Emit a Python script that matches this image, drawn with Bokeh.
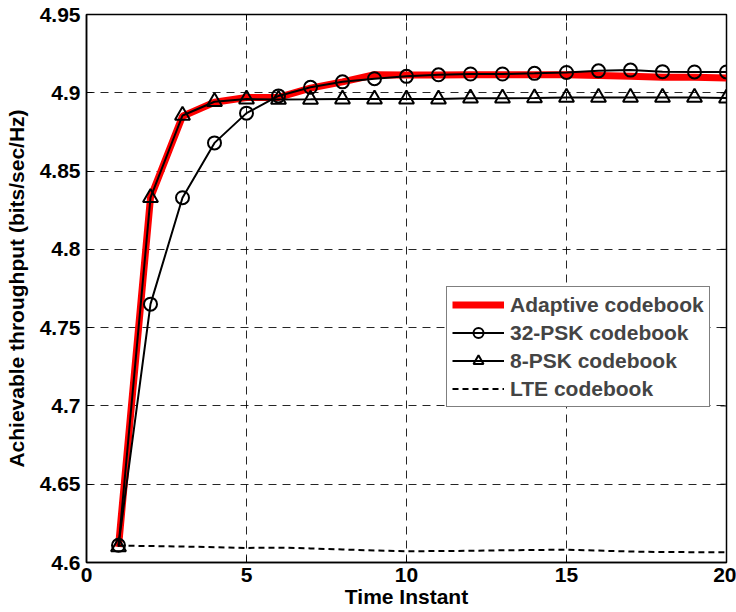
import math
from bokeh.plotting import figure
from bokeh.models import Range1d, FixedTicker, Legend, LegendItem
from bokeh.embed import file_html
from bokeh.resources import INLINE

t = list(range(1, 21))
adaptive = [4.610, 4.833, 4.885, 4.894, 4.897, 4.897, 4.903, 4.907, 4.9115, 4.9113,
            4.9113, 4.9115, 4.9115, 4.9115, 4.9115, 4.911, 4.9105, 4.910, 4.910, 4.9095]
psk32 = [4.611, 4.765, 4.833, 4.868, 4.887, 4.898, 4.9035, 4.907, 4.909, 4.9105,
         4.9115, 4.912, 4.912, 4.9124, 4.913, 4.914, 4.9145, 4.9135, 4.9133, 4.9133]
psk8 = [4.610, 4.833, 4.8855, 4.8943, 4.896, 4.8957, 4.8958, 4.896, 4.896, 4.896,
        4.896, 4.8965, 4.8965, 4.8967, 4.897, 4.897, 4.897, 4.897, 4.897, 4.8966]
lte = [4.6108, 4.6105, 4.6102, 4.6098, 4.6093, 4.6095, 4.6090, 4.6083, 4.6077, 4.6072,
       4.6073, 4.6075, 4.6078, 4.6080, 4.6082, 4.6076, 4.6070, 4.6067, 4.6066, 4.6065]

x_ticks = [0, 5, 10, 15, 20]
y_ticks = [4.6, 4.65, 4.7, 4.75, 4.8, 4.85, 4.9, 4.95]
y_tick_labels = ["4.6", "4.65", "4.7", "4.75", "4.8", "4.85", "4.9", "4.95"]

FONT = "Liberation Sans"
FS = "21px"
X0, X1, Y0, Y1 = 0, 20, 4.6, 4.95

p = figure(width=736, height=612, output_backend="svg", toolbar_location=None,
           x_range=Range1d(X0, X1), y_range=Range1d(Y0, Y1),
           min_border_left=86, min_border_right=10, min_border_top=14, min_border_bottom=50)
p.background_fill_color = "white"
p.border_fill_color = "white"
p.outline_line_color = "black"
p.outline_line_width = 1.5

for ax in (p.xaxis[0], p.yaxis[0]):
    ax.major_tick_in = 6
    ax.major_tick_out = 0
    ax.minor_tick_in = 0
    ax.minor_tick_out = 0
    ax.axis_line_color = "black"
    ax.axis_line_width = 1.5
    ax.major_tick_line_color = "black"
    ax.major_tick_line_width = 1
    ax.major_label_text_font = FONT
    ax.major_label_text_font_style = "bold"
    ax.major_label_text_font_size = FS
    ax.major_label_text_color = "black"
    ax.axis_label_text_font = FONT
    ax.axis_label_text_font_style = "bold"
    ax.axis_label_text_font_size = FS
    ax.axis_label_text_color = "black"

p.xaxis.ticker = FixedTicker(ticks=x_ticks)
p.yaxis.ticker = FixedTicker(ticks=y_ticks)
p.yaxis.major_label_overrides = {v: s for v, s in zip(y_ticks, y_tick_labels)}
p.xaxis.axis_label = "Time Instant"
p.yaxis.axis_label = "Achievable throughput (bits/sec/Hz)"
p.xaxis.major_label_standoff = 5
p.xaxis.axis_label_standoff = 0
p.yaxis.major_label_standoff = 6
p.yaxis.axis_label_standoff = 9

for g in (p.xgrid[0], p.ygrid[0]):
    g.grid_line_color = "black"
    g.grid_line_alpha = 0.85
    g.grid_line_width = 1
    g.grid_line_dash = "8 6"
p.xgrid.ticker = FixedTicker(ticks=x_ticks)
p.ygrid.ticker = FixedTicker(ticks=y_ticks)

# mirrored inward ticks on top and right edges (box on)
p.ray(x=x_ticks, y=[Y1] * len(x_ticks), length=6, length_units="screen",
      angle=-math.pi / 2, line_color="black", line_width=1)
p.ray(x=[X1] * len(y_ticks), y=y_ticks, length=6, length_units="screen",
      angle=math.pi, line_color="black", line_width=1)

r_ad = p.line(t, adaptive, line_color="red", line_width=7)
r_32l = p.line(t, psk32, line_color="black", line_width=2)
r_32m = p.scatter(t, psk32, marker="circle", size=13, line_color="black", line_width=2,
                  fill_color=None)
r_8l = p.line(t, psk8, line_color="black", line_width=2)
r_8m = p.scatter(t, psk8, marker="triangle", size=15, line_color="black", line_width=2,
                 fill_color=None)
r_lte = p.line(t, lte, line_color="black", line_width=2, line_dash="6 4")

legend = Legend(items=[
    LegendItem(label="Adaptive codebook", renderers=[r_ad]),
    LegendItem(label="32-PSK codebook", renderers=[r_32l, r_32m]),
    LegendItem(label="8-PSK codebook", renderers=[r_8l, r_8m]),
    LegendItem(label="LTE codebook", renderers=[r_lte]),
], location=(360, 155))
legend.label_text_font = FONT
legend.label_text_font_style = "bold"
legend.label_text_font_size = FS
legend.label_height = 25
legend.glyph_height = 25
legend.glyph_width = 52
legend.spacing = 3
legend.padding = 5
legend.margin = 0
legend.label_standoff = 6
legend.border_line_color = "black"
legend.border_line_width = 1.5
legend.background_fill_alpha = 1
p.add_layout(legend, "center")

open("out.html", "w").write(file_html(p, INLINE))
